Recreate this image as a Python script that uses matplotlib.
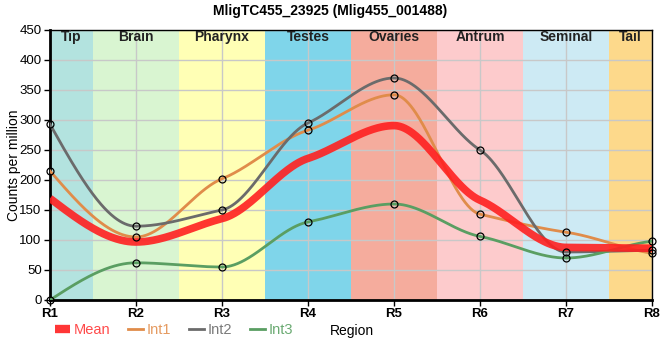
import numpy as np
import matplotlib
matplotlib.use("Agg")
import matplotlib.pyplot as plt
from matplotlib.lines import Line2D

plt.rcParams['font.family'] = ['Liberation Sans', 'DejaVu Sans']

categories = ["R1", "R2", "R3", "R4", "R5", "R6", "R7", "R8"]
int1 = [215, 105, 202, 283, 342, 143, 113, 78]
int2 = [293, 123, 150, 295, 370, 250, 80, 83]
int3 = [0, 62, 55, 130, 160, 106, 70, 98]
mean = [(a + b + c) / 3 for a, b, c in zip(int1, int2, int3)]

region_names = ["Tip", "Brain", "Pharynx", "Testes", "Ovaries", "Antrum", "Seminal", "Tail"]
region_colors = ["#b3e3df", "#d9f5d1", "#ffffb5", "#7fd5ea", "#f5ac9d", "#fdcbcc", "#cdeaf4", "#fdd98b"]
region_bounds = [(0, 0.5), (0.5, 1.5), (1.5, 2.5), (2.5, 3.5), (3.5, 4.5), (4.5, 5.5), (5.5, 6.5), (6.5, 7)]


def smooth(x, y, xs, scale=0.65):
    x = np.asarray(x, float); y = np.asarray(y, float)
    h = np.diff(x); d = np.diff(y) / h
    n = len(x)
    m = np.zeros(n)
    for k in range(1, n - 1):
        if d[k - 1] * d[k] > 0:
            w1 = 2 * h[k] + h[k - 1]; w2 = h[k] + 2 * h[k - 1]
            m[k] = scale * (w1 + w2) / (w1 / d[k - 1] + w2 / d[k])
    m[0] = d[0] * 1.5
    m[-1] = d[-1] * 0.6
    out = np.empty_like(xs)
    for i, xv in enumerate(xs):
        k = min(np.searchsorted(x, xv, side='right') - 1, n - 2)
        k = max(k, 0)
        t = (xv - x[k]) / h[k]
        h00 = 2 * t**3 - 3 * t**2 + 1; h10 = t**3 - 2 * t**2 + t
        h01 = -2 * t**3 + 3 * t**2; h11 = t**3 - t**2
        out[i] = h00 * y[k] + h10 * h[k] * m[k] + h01 * y[k + 1] + h11 * h[k] * m[k + 1]
    return out


fig = plt.figure(figsize=(6.6, 3.6), dpi=100)
ax = fig.add_axes([50 / 660, 1 - 300 / 360, 602 / 660, 270 / 360])

xpos = np.arange(len(categories))
for (a, b), c, name in zip(region_bounds, region_colors, region_names):
    ax.axvspan(a, b, color=c, lw=0, zorder=0)
    ax.text((a + b) / 2, 438, name, ha='center', va='center', fontsize=10,
            fontweight='bold', color='#222222', zorder=5)

ax.set_xlim(0, 7)
ax.set_ylim(0, 450)
ax.set_yticks(np.arange(0, 451, 50))
ax.set_xticks(xpos)
ax.set_xticklabels(categories, fontweight='bold', fontsize=9.5)
ax.grid(True, color='#c8c8c8', lw=1, zorder=1)
for gl in ax.get_xgridlines() + ax.get_ygridlines():
    gl.set_zorder(1)

xs = np.linspace(0, 7, 700)
ax.plot(xs, smooth(xpos, mean, xs), color='#ff2020', alpha=0.9, lw=5.5, zorder=4,
        solid_capstyle='butt')
colors = {"Int1": "#e08c4a", "Int2": "#6b6b6b", "Int3": "#5a9e62"}
for name, vals in [("Int1", int1), ("Int2", int2), ("Int3", int3)]:
    ax.plot(xs, smooth(xpos, vals, xs), color=colors[name], lw=2, zorder=3)
    ax.plot(xpos, vals, 'o', ms=5, mfc='none', mec='black', mew=0.9, zorder=6, clip_on=False)

for s in ['left', 'bottom']:
    ax.spines[s].set_linewidth(2)
for s in ['top', 'right']:
    ax.spines[s].set_linewidth(1)
ax.tick_params(axis='both', length=4, width=1, direction='out', labelsize=9.5, pad=2)
ax.set_ylabel("Counts per million", fontsize=10)
ax.yaxis.set_label_coords((21 - 50) / 602, 0.5)

handles = [Line2D([], [], color='#ff2020', lw=6, alpha=0.9, solid_capstyle='butt'),
           Line2D([], [], color=colors["Int1"], lw=2),
           Line2D([], [], color=colors["Int2"], lw=2),
           Line2D([], [], color=colors["Int3"], lw=2)]
leg = fig.legend(handles, ["Mean", "Int1", "Int2", "Int3"], loc='center left',
                 bbox_to_anchor=(55 / 660, 1 - 330 / 360), ncol=4, frameon=False,
                 handlelength=1.0, handletextpad=0.3, columnspacing=1.2,
                 fontsize=10.5, labelcolor='linecolor', borderaxespad=0, borderpad=0)
for t, c in zip(leg.get_texts(), ['#ff4a4a', '#e59a60', '#7a7a7a', '#6aaa72']):
    t.set_color(c)
fig.text(330 / 660, 1 - 331 / 360, "Region", ha='left', va='center', fontsize=10)

fig.text(0.5, 1 - 11 / 360, "MligTC455_23925 (Mlig455_001488)", ha='center', va='center',
         fontsize=10, fontweight='bold')

fig.savefig("out.png", dpi=100)
